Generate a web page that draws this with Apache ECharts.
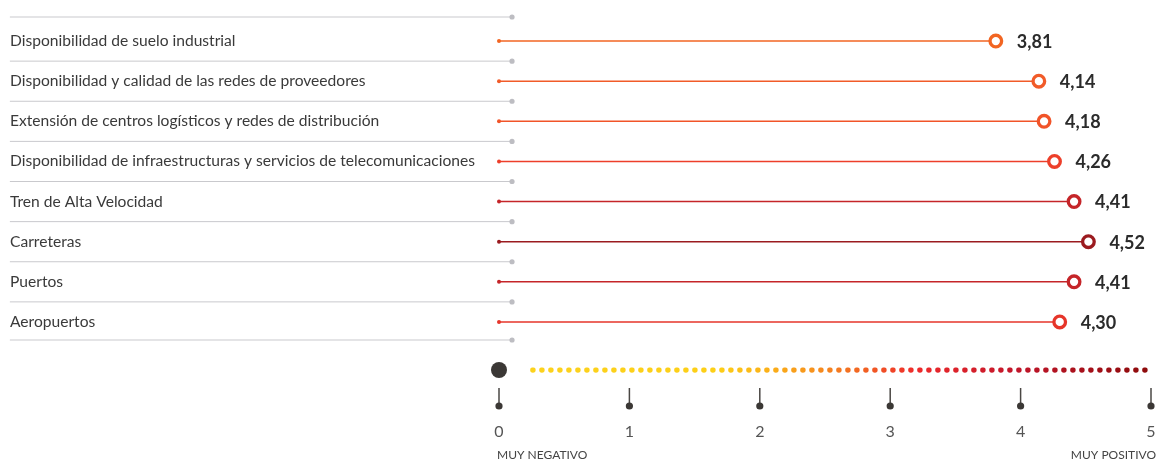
<!DOCTYPE html>
<html>
<head>
<meta charset="utf-8">
<script src="https://cdn.jsdelivr.net/npm/echarts@6/dist/echarts.min.js"></script>
<style>
html,body{margin:0;padding:0;background:#fff;}
#chart{width:1162px;height:464px;}
</style>
</head>
<body>
<div id="chart"></div>
<script>
// ---- data ----
const categories = [
  'Disponibilidad de suelo industrial',
  'Disponibilidad y calidad de las redes de proveedores',
  'Extensión de centros logísticos y redes de distribución',
  'Disponibilidad de infraestructuras y servicios de telecomunicaciones',
  'Tren de Alta Velocidad',
  'Carreteras',
  'Puertos',
  'Aeropuertos'
];
const values = [3.81, 4.14, 4.18, 4.26, 4.41, 4.52, 4.41, 4.30];
const scaleTicks = [0, 1, 2, 3, 4, 5];
const scaleEnds = ['MUY NEGATIVO', 'MUY POSITIVO'];

const FONT = 'Lato, "Open Sans", sans-serif';
const fmt = v => v.toFixed(2).replace('.', ',');

const chart = echarts.init(document.getElementById('chart'), null, {renderer: 'canvas'});

const option = {
  animation: false,
  backgroundColor: '#fff',
  grid: [
    {left: 499, width: 652, top: 21, height: 321},
    {left: 499, width: 652, top: 370, height: 36}
  ],
  xAxis: [
    {gridIndex: 0, type: 'value', min: 0, max: 5, show: false},
    {gridIndex: 1, type: 'value', min: 0, max: 5, interval: 1,
     axisLine: {show: false}, axisTick: {show: false}, splitLine: {show: false},
     axisLabel: {margin: 18, color: '#555', fontSize: 16, fontFamily: FONT}}
  ],
  yAxis: [
    {gridIndex: 0, type: 'category', data: categories, inverse: true,
     axisLine: {show: false}, axisTick: {show: false}, splitLine: {show: false},
     axisLabel: {align: 'left', margin: 489, color: '#3a3a3a', fontSize: 15.6, fontFamily: FONT}},
    {gridIndex: 1, type: 'value', min: 0, max: 1, show: false}
  ],
  visualMap: {
    show: false, type: 'continuous', seriesIndex: 1, dimension: 0,
    min: 3.8, max: 4.52,
    inRange: {color: ['#f26522', '#f26522', '#f26324', '#f15f27', '#f15a29', '#ef412a', '#df2c2a', '#bd2329', '#9b1b1f']}
  },
  series: [
    // separators
    {
      type: 'custom', xAxisIndex: 0, yAxisIndex: 0, silent: true,
      data: categories.map((c, i) => [0, i]),
      renderItem(params, api) {
        const i = api.value(1);
        const band = api.size([0, 1])[1];
        const xa = api.coord([-3.751, i])[0];
        const xb = api.coord([0.1, i])[0];
        const yc = api.coord([0, i])[1];
        const ys = [yc - band / 2 - (i === 0 ? 4 : 0)];
        if (i === categories.length - 1) ys.push(yc + band / 2 - 2);
        const ch = [];
        ys.forEach(y => {
          ch.push({type: 'line', shape: {x1: xa, y1: y, x2: xb, y2: y}, style: {stroke: '#c9c9cd', lineWidth: 1}});
          ch.push({type: 'circle', shape: {cx: xb, cy: y, r: 2.6}, style: {fill: '#bdbdc2'}});
        });
        return {type: 'group', children: ch};
      }
    },
    // lollipops
    {
      type: 'custom', xAxisIndex: 0, yAxisIndex: 0,
      encode: {x: 0, y: 1},
      data: values.map((v, i) => [v, i]),
      renderItem(params, api) {
        const v = api.value(0), i = api.value(1);
        const s = api.coord([0, i]), e = api.coord([v, i]);
        const color = api.visual('color');
        return {type: 'group', children: [
          {type: 'line', shape: {x1: s[0], y1: s[1], x2: e[0], y2: e[1]}, style: {stroke: color, lineWidth: 1.6}},
          {type: 'circle', shape: {cx: s[0], cy: s[1], r: 2}, style: {fill: color}},
          {type: 'circle', shape: {cx: e[0], cy: e[1], r: 5.8}, style: {fill: '#fff', stroke: color, lineWidth: 3.3}},
          {type: 'text', style: {text: fmt(v), x: e[0] + 21, y: e[1] + 1, verticalAlign: 'middle',
            font: 'bold 18px ' + FONT, fill: '#2b2b2b'}}
        ]};
      }
    },
    // dotted gradient scale
    {
      type: 'line', xAxisIndex: 1, yAxisIndex: 1, silent: true, symbol: 'none',
      data: [[0.26, 1], [5, 1]],
      lineStyle: {
        width: 5.5, type: [0, 9], cap: 'round',
        color: new echarts.graphic.LinearGradient(0, 0, 1, 0, [
          {offset: 0, color: '#fcd21d'},
          {offset: 0.3, color: '#fdcf17'},
          {offset: 0.38, color: '#fbb118'},
          {offset: 0.45, color: '#f7941d'},
          {offset: 0.53, color: '#f26522'},
          {offset: 0.62, color: '#ee2a2b'},
          {offset: 0.78, color: '#c1162a'},
          {offset: 1, color: '#8b0a0a'}
        ])
      }
    },
    // big origin dot
    {
      type: 'scatter', xAxisIndex: 1, yAxisIndex: 1, silent: true,
      data: [[0, 1]], symbolSize: 16, itemStyle: {color: '#3b3835', opacity: 1}
    },
    // ticks with dots
    {
      type: 'custom', xAxisIndex: 1, yAxisIndex: 1, silent: true,
      data: scaleTicks.map(t => [t, 0]),
      renderItem(params, api) {
        const t = api.value(0);
        const a = api.coord([t, 0.5]), b = api.coord([t, 0]);
        return {type: 'group', children: [
          {type: 'line', shape: {x1: a[0], y1: a[1], x2: b[0], y2: b[1]}, style: {stroke: '#4a4744', lineWidth: 1.5}},
          {type: 'circle', shape: {cx: b[0], cy: b[1], r: 3.6}, style: {fill: '#3b3835'}}
        ]};
      }
    }
  ],
  graphic: [
    {type: 'text', left: 497, top: 449, style: {text: scaleEnds[0], font: '12px ' + FONT, fill: '#444'}},
    {type: 'text', right: 6, top: 449, style: {text: scaleEnds[1], font: '12px ' + FONT, fill: '#444'}}
  ]
};
chart.setOption(option);
</script>
</body>
</html>
